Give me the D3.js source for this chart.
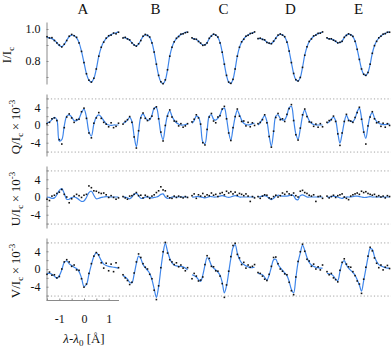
<!DOCTYPE html>
<html><head><meta charset="utf-8">
<script src="https://cdn.jsdelivr.net/npm/d3@7"></script>
<style>
body{margin:0;background:#fff}
svg{display:block}
text{font-family:"Liberation Serif","DejaVu Serif",serif;fill:#111}
</style>
</head><body>
<svg id="c" width="391" height="348"></svg>
<script>
// ---------------- DATA ----------------
const panels = ["A","B","C","D","E"];
const wavelengths = [-1.5,-1.4,-1.3,-1.2,-1.1,-1.0,-0.9,-0.8,-0.7,-0.6,-0.5,-0.4,-0.3,-0.2,-0.1,0.0,0.1,0.2,0.3,0.4,0.5,0.6,0.7,0.8,0.9,1.0,1.1,1.2,1.3,1.4];

// Stokes I / Ic  (fit and observed)
const fitI_A = [0.948,0.945,0.94,0.93,0.915,0.897,0.89,0.903,0.93,0.952,0.962,0.96,0.945,0.915,0.86,0.79,0.72,0.68,0.668,0.69,0.75,0.83,0.885,0.92,0.94,0.955,0.965,0.972,0.977,0.982];
const fitI_B = [0.948,0.945,0.94,0.93,0.915,0.9,0.895,0.905,0.93,0.952,0.963,0.962,0.948,0.915,0.855,0.78,0.71,0.67,0.658,0.68,0.745,0.83,0.885,0.92,0.94,0.955,0.965,0.972,0.978,0.982];
const fitI_C = [0.942,0.94,0.935,0.925,0.91,0.9,0.9,0.915,0.94,0.958,0.966,0.963,0.948,0.915,0.855,0.78,0.71,0.668,0.66,0.685,0.75,0.83,0.885,0.918,0.938,0.953,0.963,0.97,0.976,0.98];
const fitI_D = [0.942,0.94,0.937,0.93,0.918,0.91,0.91,0.922,0.944,0.96,0.967,0.964,0.95,0.92,0.862,0.79,0.722,0.683,0.675,0.697,0.76,0.836,0.888,0.92,0.94,0.955,0.964,0.971,0.976,0.98];
const fitI_E = [0.942,0.94,0.937,0.932,0.922,0.915,0.915,0.925,0.946,0.962,0.968,0.965,0.952,0.925,0.873,0.81,0.75,0.717,0.71,0.728,0.78,0.848,0.895,0.925,0.943,0.957,0.966,0.973,0.978,0.982];
const obsI_A = [0.952,0.944,0.946,0.928,0.913,0.9,0.888,0.905,0.928,0.955,0.966,0.958,0.948,0.913,0.86,0.79,0.72,0.68,0.668,0.692,0.75,0.83,0.886,0.918,0.943,0.958,0.962,0.975,0.97,0.98];
const obsI_B = [0.944,0.948,0.938,0.932,0.913,0.9,0.893,0.908,0.928,0.955,0.966,0.96,0.95,0.913,0.856,0.78,0.71,0.67,0.658,0.682,0.745,0.83,0.886,0.92,0.942,0.953,0.968,0.97,0.977,0.98];
const obsI_C = [0.945,0.937,0.936,0.922,0.912,0.898,0.901,0.913,0.942,0.956,0.968,0.962,0.95,0.913,0.855,0.78,0.71,0.668,0.66,0.685,0.75,0.83,0.886,0.92,0.936,0.955,0.961,0.972,0.974,0.982];
const obsI_D = [0.94,0.943,0.935,0.932,0.916,0.912,0.908,0.924,0.942,0.962,0.969,0.962,0.952,0.918,0.862,0.79,0.722,0.683,0.675,0.697,0.76,0.836,0.889,0.922,0.938,0.957,0.962,0.973,0.974,0.982];
const obsI_E = [0.945,0.938,0.939,0.93,0.924,0.913,0.917,0.923,0.948,0.96,0.97,0.963,0.954,0.923,0.873,0.81,0.75,0.717,0.71,0.728,0.78,0.848,0.896,0.923,0.945,0.955,0.968,0.971,0.98,0.98];

// Stokes Q / Ic x 10^-3
const fitQ_A = [0.5,0.7,1.2,1.75,1.2,-3.6,-3.3,-0.2,2.0,2.3,1.8,1.0,1.0,1.5,2.8,3.6,1.8,-1.5,-2.5,0.2,1.8,2.3,1.8,1.0,0.3,0.0,-0.1,0.0,0.0,0.0];
const fitQ_B = [0.4,0.6,1.1,1.7,0.8,-2.5,-4.9,-1.5,1.8,2.5,1.7,1.1,1.2,2.2,3.8,3.9,1.6,-1.8,-3.3,-0.3,2.2,3.2,2.0,1.1,0.5,0.2,0.0,0.0,0.1,0.2];
const fitQ_C = [0.4,1.0,2.0,1.8,0.0,-3.8,-4.2,-1.2,2.0,2.3,1.3,1.1,1.5,2.3,3.5,3.8,1.6,-1.6,-3.4,-0.8,1.8,3.3,2.3,1.1,0.4,0.1,0.0,0.1,0.3,0.4];
const fitQ_D = [0.0,0.5,1.4,2.1,0.8,-2.4,-4.8,-1.6,2.0,2.3,1.5,1.1,1.2,2.2,3.9,4.2,1.2,-2.0,-3.2,-0.9,2.0,3.4,2.1,1.0,0.4,0.1,0.0,0.0,0.0,0.0];
const fitQ_E = [0.4,0.7,1.3,1.8,1.0,-1.8,-4.1,-2.0,0.6,2.2,1.2,0.8,0.8,1.5,3.0,3.8,1.6,-1.4,-3.0,-0.3,2.0,2.8,1.6,0.8,0.4,0.2,0.1,0.1,0.2,0.2];
const obsQ_A = [0.3,0.6,1.4,1.6,1.0,-3.3,-4.3,-0.6,1.8,2.5,1.6,0.6,1.2,1.3,3.0,3.8,1.5,-1.8,-2.9,0.4,1.6,2.8,1.5,0.6,0.2,-0.4,0.5,-0.6,-0.3,0.4];
const obsQ_B = [0.2,0.8,1.2,1.9,0.6,-2.7,-5.2,-1.3,1.6,2.7,1.5,1.0,1.4,2.0,3.7,4.1,1.4,-1.6,-3.6,-0.1,2.0,3.4,1.8,0.9,0.8,-0.2,0.3,-0.5,-0.2,0.3];
const obsQ_C = [0.7,1.3,2.3,1.6,0.2,-4.0,-4.5,-1.0,1.8,2.6,0.9,0.5,1.8,2.1,3.6,4.2,1.4,-1.8,-3.5,-0.6,1.9,3.6,2.0,0.8,0.9,-0.2,0.6,-0.4,0.5,-0.1];
const obsQ_D = [0.3,0.6,1.2,2.3,0.5,-2.6,-5.0,-1.4,1.7,2.6,1.2,1.4,0.8,2.4,3.7,4.6,1.0,-2.2,-3.4,-0.7,2.3,3.6,1.9,0.7,0.6,-0.3,0.2,-0.5,0.3,-0.4];
const obsQ_E = [0.6,1.0,1.2,2.0,0.8,-2.0,-4.6,-1.8,0.8,2.4,1.0,0.9,0.6,1.7,2.8,4.0,1.3,-1.6,-4.3,-0.2,1.8,3.0,1.4,0.5,0.7,-0.3,0.4,-0.5,0.3,-0.1];

// Stokes U / Ic x 10^-3
const fitU_A = [0.0,-0.1,-0.3,-0.2,0.5,1.5,1.9,0.8,-0.5,-0.5,-0.1,0.0,-0.2,-0.6,-1.0,-0.9,-0.1,1.0,1.3,0.4,-0.4,-0.3,-0.1,0.0,0.1,0.0,0.0,0.0,0.0,0.0];
const fitU_B = [0.0,0.0,-0.2,-0.4,0.0,0.6,0.8,0.3,-0.3,-0.3,0.0,0.0,-0.1,-0.2,-0.1,0.0,0.2,0.6,0.7,0.0,-0.3,-0.2,0.0,0.0,0.0,0.0,0.0,0.0,0.0,0.0];
const fitU_C = [0.0,0.0,0.1,0.1,0.0,-0.1,-0.2,-0.1,0.1,0.1,0.0,0.0,0.1,0.2,0.3,0.2,0.0,-0.1,0.0,0.2,0.3,0.2,0.0,0.0,0.0,0.0,0.0,0.0,0.0,0.0];
const fitU_D = [0.0,0.1,0.2,0.3,0.1,-0.3,-0.6,-0.3,0.2,0.4,0.3,0.2,0.2,0.2,0.3,0.5,0.3,-0.5,-0.6,0.3,0.5,0.3,0.0,0.0,0.0,0.0,0.0,0.0,0.0,0.0];
const fitU_E = [0.0,0.0,0.1,0.2,0.1,0.0,-0.2,-0.3,-0.1,0.0,0.0,0.0,0.1,0.2,0.2,0.1,0.0,-0.1,-0.1,0.0,0.1,0.0,0.0,0.0,0.0,0.0,0.0,0.0,0.0,0.0];
const obsU_A = [-0.5,-0.8,0.2,0.4,0.8,1.1,1.7,0.6,0.0,-1.3,-0.4,0.2,0.6,0.3,-0.1,0.4,0.6,2.5,2.1,1.4,1.3,1.0,0.8,0.9,0.5,-0.1,0.3,-0.1,-0.5,-0.2];
const obsU_B = [0.1,-0.2,-0.5,0.2,0.3,0.6,1.0,0.3,0.4,-0.2,0.4,0.1,-0.3,0.2,0.5,1.0,1.4,2.3,1.6,1.4,0.2,-0.2,-0.3,0.2,-0.1,0.2,0.0,-0.2,0.1,-0.1];
const obsU_C = [0.3,0.7,-0.3,0.5,0.2,0.8,0.1,0.5,0.3,0.9,0.4,0.6,0.1,0.8,1.0,0.5,1.3,0.9,1.2,0.7,1.1,0.4,0.8,0.6,0.3,0.7,0.2,-1.0,0.1,-0.2];
const obsU_D = [0.1,-0.3,0.2,0.5,0.4,-0.2,-0.4,0.1,0.4,0.0,0.3,0.9,0.6,1.2,0.7,0.4,0.9,0.3,0.0,1.3,1.5,1.0,0.8,0.4,0.2,0.5,-1.0,0.1,0.2,-0.3];
const obsU_E = [0.2,-0.2,0.1,0.4,-0.1,0.3,0.5,0.7,0.0,-0.3,-0.6,0.2,0.5,0.7,0.9,0.6,1.3,1.0,1.2,0.8,0.6,0.4,0.6,0.1,0.3,0.0,0.2,-0.2,0.3,0.1];

// Stokes V / Ic x 10^-3
const fitV_A = [-1.0,-1.0,-1.2,-1.6,-2.1,-1.5,-0.2,1.5,1.8,1.2,0.8,0.4,0.1,-0.6,-2.0,-3.9,-3.5,-1.2,1.0,2.8,3.7,3.0,1.9,1.1,0.8,0.6,0.5,0.4,0.3,0.2];
const fitV_B = [-1.5,-1.8,-2.3,-3.0,-3.1,-1.2,1.2,2.9,2.3,1.0,0.3,-0.3,-1.0,-2.4,-4.5,-6.4,-4.0,0.0,3.6,5.8,4.0,2.4,1.4,0.9,0.7,0.6,0.6,0.5,0.2,-0.2];
const fitV_C = [-1.3,-1.5,-1.8,-2.4,-2.8,-1.4,0.8,2.6,2.0,0.8,0.2,-0.2,-0.7,-1.4,-3.0,-5.4,-3.8,-0.8,2.4,4.8,5.5,3.6,2.2,1.4,1.0,0.7,0.5,0.3,0.3,0.4];
const fitV_D = [-1.0,-1.1,-1.3,-1.9,-2.5,-1.4,0.4,2.1,2.2,1.0,0.3,-0.3,-0.9,-1.5,-2.8,-4.6,-5.4,-2.0,1.5,3.6,5.4,4.2,2.6,1.5,0.9,0.6,0.4,0.3,0.2,0.2];
const fitV_E = [-1.0,-1.1,-1.2,-1.6,-2.3,-2.6,-0.6,1.3,1.9,0.9,0.2,-0.3,-0.8,-1.4,-2.4,-3.6,-5.0,-2.6,0.0,2.6,4.6,4.4,2.8,1.7,1.0,0.7,0.5,0.3,0.2,0.2];
const obsV_A = [-1.2,-0.7,-1.4,-1.3,-2.0,-1.7,0.0,1.6,2.1,1.6,0.6,0.9,-0.2,-0.3,-2.2,-4.1,-3.4,-1.0,1.2,2.9,3.7,3.2,1.4,0.2,1.3,-0.4,1.1,-0.6,1.4,0.3];
const obsV_B = [-1.3,-2.0,-2.6,-3.5,-3.0,-0.9,1.6,3.4,2.6,1.2,0.4,0.0,-1.2,-2.2,-4.8,-6.9,-3.8,0.3,3.9,6.0,3.6,2.1,1.6,1.0,1.4,0.5,0.9,0.2,-0.4,0.3];
const obsV_C = [-2.2,-1.0,-1.6,-2.7,-2.5,-1.8,1.0,3.0,2.4,0.6,0.5,-0.4,-0.5,-1.6,-3.3,-6.4,-3.6,-0.5,2.8,5.3,5.8,3.3,2.5,1.0,1.5,0.2,0.9,0.4,0.6,1.0];
const obsV_D = [-0.8,-1.0,-1.6,-2.3,-2.6,-1.2,0.6,2.6,2.7,1.2,0.0,-0.5,-1.1,-1.3,-3.0,-4.9,-5.8,-1.8,1.7,3.9,5.6,4.0,2.2,1.8,0.6,1.1,0.0,0.5,-0.2,0.9];
const obsV_E = [-0.6,-1.3,-1.0,-2.0,-2.4,-2.9,-0.3,1.5,2.3,1.1,0.5,0.4,-0.6,-1.5,-2.7,-3.4,-5.5,-2.3,0.4,2.9,4.9,4.1,2.5,1.3,0.3,0.9,-0.2,0.4,0.8,0.1];

// tick values / labels
const iTickValues = [0.7,0.8,0.9,1.0];
const iTickLabels = {"0.8":"0.8","1":"1.0"};
const stokesTickValues = [-6,-4,-2,0,2,4,6];
const stokesTickLabels = {"-4":"-4","0":"0","4":"4"};
const gridLevels = [-6,6];
const xTickValues = [-1.5,-1,-0.5,0,0.5,1];
const xTickLabels = {"-1":"-1","0":"0","1":"1"};

// ---------------- LAYOUT ----------------
const svg = d3.select("#c");
const panelX = [[47,119],[123,188],[192,255],[258,323],[327,390]];
const rowTop = [22,94,166,238], rowH = 62;
const axisX = 46.5;
const blue = "#3f86ea";

const xs = panelX.map(r => d3.scaleLinear().domain([-1.5,1.42]).range(r));

const rows = [
  {key:"I", name:"I", domain:[0.656,1.044], fit:[fitI_A,fitI_B,fitI_C,fitI_D,fitI_E], obs:[obsI_A,obsI_B,obsI_C,obsI_D,obsI_E], tv:iTickValues, tl:iTickLabels, titleX:11},
  {key:"Q", name:"Q", domain:[-7,7], fit:[fitQ_A,fitQ_B,fitQ_C,fitQ_D,fitQ_E], obs:[obsQ_A,obsQ_B,obsQ_C,obsQ_D,obsQ_E], tv:stokesTickValues, tl:stokesTickLabels, titleX:20},
  {key:"U", name:"U", domain:[-7,7], fit:[fitU_A,fitU_B,fitU_C,fitU_D,fitU_E], obs:[obsU_A,obsU_B,obsU_C,obsU_D,obsU_E], tv:stokesTickValues, tl:stokesTickLabels, titleX:20},
  {key:"V", name:"V", domain:[-7,7], fit:[fitV_A,fitV_B,fitV_C,fitV_D,fitV_E], obs:[obsV_A,obsV_B,obsV_C,obsV_D,obsV_E], tv:stokesTickValues, tl:stokesTickLabels, titleX:20}
];

// panel letters
svg.selectAll("text.plabel").data(panels).join("text")
  .attr("class","plabel")
  .attr("x",(d,i)=>(panelX[i][0]+panelX[i][1])/2)
  .attr("y",14)
  .attr("text-anchor","middle")
  .attr("font-size",15)
  .text(d=>d);

rows.forEach((row,r)=>{
  const y = d3.scaleLinear().domain(row.domain).range([rowTop[r]+rowH, rowTop[r]]);

  if(row.key!=="I"){
    svg.append("g").selectAll("line").data(gridLevels).join("line")
      .attr("x1",axisX+1).attr("x2",391)
      .attr("y1",d=>y(d)+0.5).attr("y2",d=>y(d)+0.5)
      .attr("stroke","#9a9a9a").attr("stroke-width",0.9)
      .attr("stroke-dasharray","1.2,2.2");
  }

  const ax = svg.append("g").attr("transform",`translate(${axisX},0)`)
    .call(d3.axisLeft(y).tickValues(row.tv).tickSizeInner(-2).tickSizeOuter(0).tickPadding(6)
      .tickFormat(d=>{const k=String(+d.toFixed(3)); return row.tl[k]||"";}));
  ax.select(".domain").attr("stroke","#8a8a8a");
  ax.selectAll(".tick line").attr("stroke","#8a8a8a");
  ax.selectAll(".tick text").attr("font-size",12).attr("font-family",'"Liberation Serif",serif').attr("fill","#111");

  // title
  const cy = rowTop[r]+rowH/2+2;
  const t = svg.append("text")
    .attr("transform",`translate(${row.titleX},${cy}) rotate(-90)`)
    .attr("text-anchor","middle").attr("font-size",13);
  t.append("tspan").text(row.name+"/I");
  t.append("tspan").attr("dy",3).attr("font-size",9).text("c");
  if(row.key!=="I"){
    t.append("tspan").attr("dy",-3).text("\u2009\u00d7\u200910");
    t.append("tspan").attr("dy",-5).attr("font-size",9).text("-3");
  }

  panels.forEach((p,k)=>{
    const x = xs[k];
    const fitPts = wavelengths.map((w,i)=>[w,row.fit[k][i]]);
    const obsPts = wavelengths.map((w,i)=>[w,row.obs[k][i]]);
    svg.append("path").datum(fitPts)
      .attr("fill","none").attr("stroke",blue).attr("stroke-width",1.2)
      .attr("d",d3.line().x(d=>x(d[0])).y(d=>y(d[1])).curve(d3.curveCatmullRom.alpha(0.5)));
    svg.append("g").selectAll("rect").data(obsPts).join("rect")
      .attr("x",d=>x(d[0])-0.8).attr("y",d=>y(d[1])-0.8)
      .attr("width",1.6).attr("height",1.6).attr("fill","#111");
  });

  if(row.key==="V"){
    const xa = svg.append("g").attr("transform",`translate(0,${rowTop[r]+rowH+0.5})`)
      .call(d3.axisBottom(xs[0]).tickValues(xTickValues).tickSizeInner(-2).tickSizeOuter(0).tickPadding(14)
        .tickFormat(d=>xTickLabels[String(d)]||""));
    xa.select(".domain").attr("stroke","#8a8a8a").attr("d",`M${axisX},0H${panelX[0][1]}`);
    xa.selectAll(".tick line").attr("stroke","#8a8a8a");
    xa.selectAll(".tick text").attr("font-size",12).attr("font-family",'"Liberation Serif",serif').attr("fill","#111");
    const xl = svg.append("text").attr("x",xs[0](0)).attr("y",343).attr("text-anchor","middle").attr("font-size",13);
    xl.append("tspan").attr("font-style","italic").text("\u03bb");
    xl.append("tspan").text("-");
    xl.append("tspan").attr("font-style","italic").text("\u03bb");
    xl.append("tspan").attr("dy",3).attr("font-size",9).text("0");
    xl.append("tspan").attr("dy",-3).text(" [\u00c5]");
  }
});
</script>
</body></html>
